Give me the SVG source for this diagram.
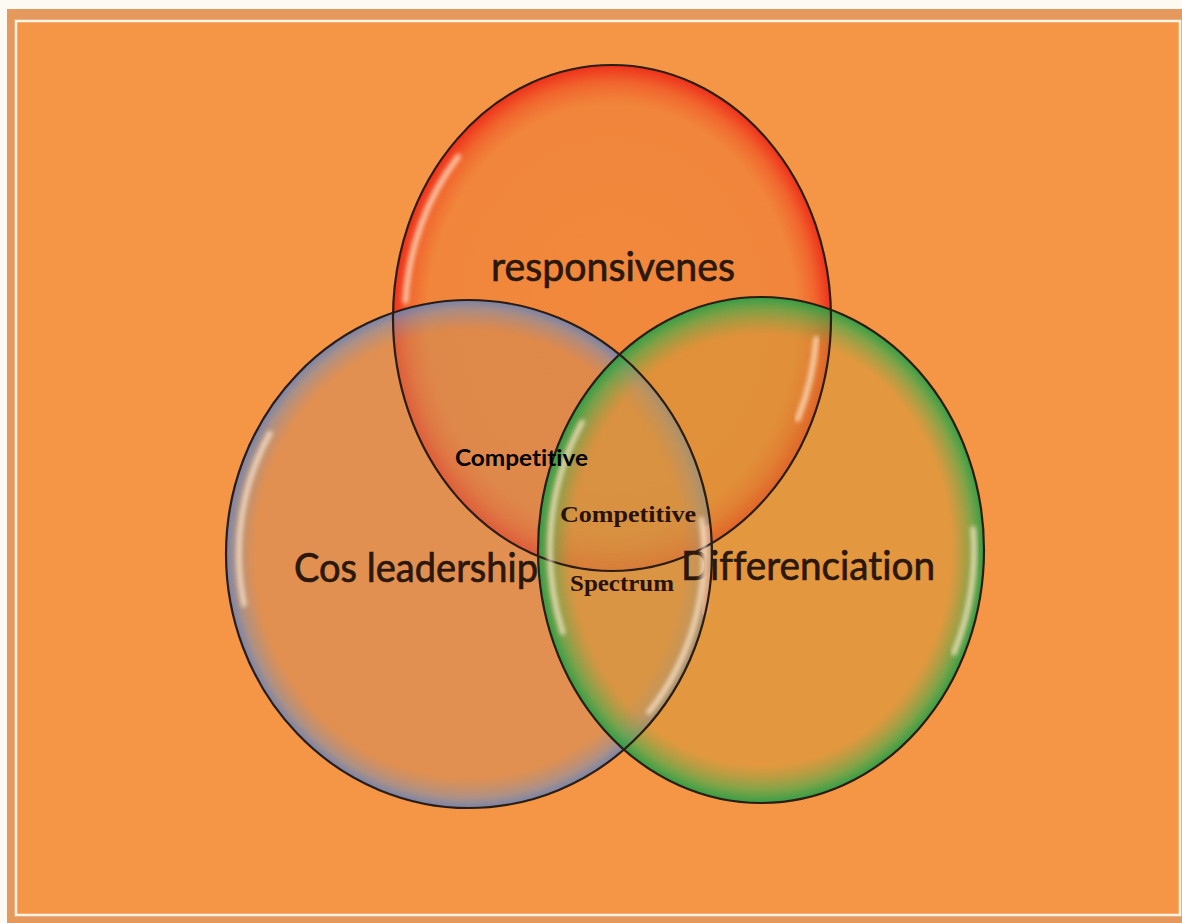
<svg xmlns="http://www.w3.org/2000/svg" width="1182" height="923" viewBox="0 0 1182 923">
  <defs>
    <style>
      .rim { fill: none; stroke: #2b1d14; stroke-width: 2.2; }
      .gloss { fill: none; stroke: #ffe8cc; stroke-width: 5.5; stroke-linecap: round; opacity: 0.75; filter: url(#soft); }
      .big { font-family: Lato, "Open Sans", "Liberation Sans", sans-serif; font-size: 41px; fill: #2b170c; stroke: #2b170c; stroke-width: 0.7; font-variant-ligatures: none; }
      .sansb { font-family: Lato, "Open Sans", "Liberation Sans", sans-serif; font-weight: bold; font-size: 23px; fill: #000; font-variant-ligatures: none; }
      .serifb { font-family: "Liberation Serif", "DejaVu Serif", serif; font-weight: bold; font-size: 23px; fill: #2a1208; }
    </style>
    <filter id="soft" x="-20%" y="-20%" width="140%" height="140%">
      <feGaussianBlur stdDeviation="2.2"/>
    </filter>
    <filter id="haze" x="-10%" y="-10%" width="120%" height="120%">
      <feGaussianBlur stdDeviation="1.2"/>
    </filter>
    <radialGradient id="gRed" cx="0.5" cy="0.5" r="0.5">
      <stop offset="0" stop-color="#ee8034" stop-opacity="0.6"/>
      <stop offset="0.84" stop-color="#ee7c34" stop-opacity="0.62"/>
      <stop offset="0.93" stop-color="#f05a28" stop-opacity="0.82"/>
      <stop offset="1" stop-color="#ee2a18" stop-opacity="0.95"/>
    </radialGradient>
    <radialGradient id="gBlue" cx="0.5" cy="0.5" r="0.5">
      <stop offset="0" stop-color="#cd8a5a" stop-opacity="0.5"/>
      <stop offset="0.88" stop-color="#cd8a5a" stop-opacity="0.5"/>
      <stop offset="0.96" stop-color="#8e8ea0" stop-opacity="0.7"/>
      <stop offset="1" stop-color="#6a82b4" stop-opacity="0.9"/>
    </radialGradient>
    <radialGradient id="gGreen" cx="0.5" cy="0.5" r="0.5">
      <stop offset="0" stop-color="#d19a37" stop-opacity="0.5"/>
      <stop offset="0.85" stop-color="#d19a37" stop-opacity="0.5"/>
      <stop offset="0.95" stop-color="#5aa848" stop-opacity="0.75"/>
      <stop offset="1" stop-color="#2a9e46" stop-opacity="0.95"/>
    </radialGradient>
  </defs>

  <!-- page and framed panel -->
  <g id="frame">
    <rect x="0" y="0" width="1182" height="923" fill="#fdfaf4"/>
    <rect x="7" y="9" width="1175" height="914" fill="#e6995c"/>
    <rect x="16" y="21" width="1164" height="894" fill="#f59647" stroke="#fff4e6" stroke-width="2.5"/>
  </g>

  <g id="node-responsiveness">
    <ellipse cx="612" cy="318" rx="219" ry="253" fill="url(#gRed)"/>
    <text class="big" x="491" y="281" textLength="244" lengthAdjust="spacingAndGlyphs">responsivenes</text>
  </g>

  <g id="node-cost-leadership">
    <ellipse cx="469" cy="554" rx="243" ry="254" fill="url(#gBlue)"/>
    <text class="big" x="294" y="582" textLength="244" lengthAdjust="spacingAndGlyphs">Cos leadership</text>
  </g>

  <g id="node-differentiation">
    <ellipse cx="761" cy="550" rx="223" ry="253" fill="url(#gGreen)"/>
    <text class="big" x="681" y="580" textLength="254" lengthAdjust="spacingAndGlyphs">Differenciation</text>
  </g>

  <!-- outlines and glassy highlights over all three bubbles -->
  <g id="bubble-rims">
    <!-- pale band just inside the right rim of the left bubble -->
    <path d="M706,525 A237,248 0 0 1 703,615" fill="none" stroke="#dca27a" stroke-width="9" opacity="0.95" filter="url(#haze)"/>
    <ellipse class="rim" cx="612" cy="318" rx="219" ry="253"/>
    <ellipse class="rim" cx="469" cy="554" rx="243" ry="254"/>
    <ellipse class="rim" cx="761" cy="550" rx="223" ry="253"/>
    <path class="gloss" d="M405.5,301.2 A207,241 0 0 1 458.2,156.7"/>
    <path class="gloss" d="M816.2,338.8 A205,239 0 0 1 797.8,419"/>
    <path class="gloss" d="M244,604.1 A230,241 0 0 1 269.8,433.5"/>
    <path class="gloss" d="M701.7,519.8 A235,246 0 0 1 649,712.1"/>
    <path class="gloss" d="M562.7,632.4 A211,241 0 0 1 582.1,422.3"/>
    <path class="gloss" d="M973.2,528.8 A213,243 0 0 1 954,652.7"/>
  </g>

  <g id="overlap-labels">
    <text class="sansb" x="455" y="466" textLength="133" lengthAdjust="spacingAndGlyphs">Competitive</text>
    <text class="serifb" x="560" y="522" textLength="136" lengthAdjust="spacingAndGlyphs">Competitive</text>
    <text class="serifb" x="570" y="591" textLength="104" lengthAdjust="spacingAndGlyphs">Spectrum</text>
  </g>
</svg>
